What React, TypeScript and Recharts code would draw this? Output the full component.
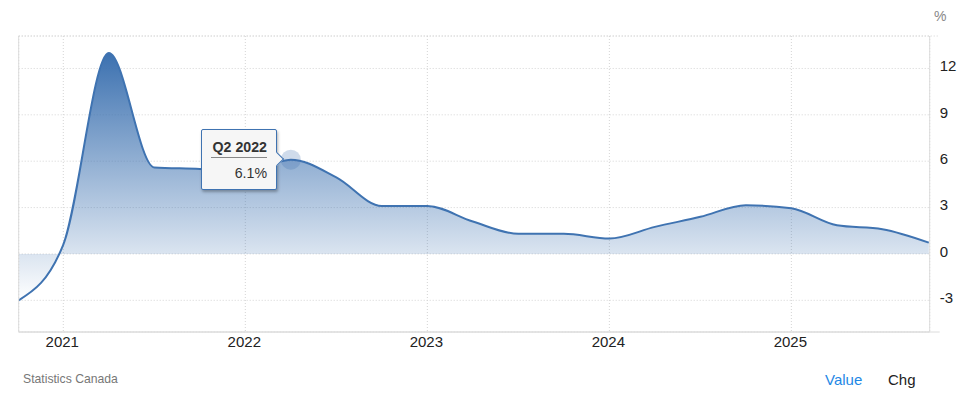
import { AreaChart, Area, XAxis, YAxis, CartesianGrid, ReferenceLine, Tooltip } from "recharts";

const quarters = [
  "Q4 2020", "Q1 2021", "Q2 2021", "Q3 2021", "Q4 2021", "Q1 2022", "Q2 2022",
  "Q3 2022", "Q4 2022", "Q1 2023", "Q2 2023", "Q3 2023", "Q4 2023", "Q1 2024",
  "Q2 2024", "Q3 2024", "Q4 2024", "Q1 2025", "Q2 2025", "Q3 2025", "Q4 2025",
];
const positions = [
  2020.755, 2021, 2021.25, 2021.5, 2021.75, 2022, 2022.25,
  2022.5, 2022.75, 2023, 2023.25, 2023.5, 2023.75, 2024,
  2024.25, 2024.5, 2024.75, 2025, 2025.25, 2025.5, 2025.755,
];
const values = [
  -3.0, 0.6, 13.0, 5.6, 5.5, 5.3, 6.1,
  4.95, 3.1, 3.1, 2.1, 1.3, 1.3, 1.0,
  1.75, 2.4, 3.15, 2.95, 1.85, 1.6, 0.73,
];
const yearTicks = [2021, 2022, 2023, 2024, 2025];
const valueTicks = [-3, 0, 3, 6, 9, 12];

const data = quarters.map((q, i) => ({ quarter: q, x: positions[i], value: values[i] }));

const xMin = 2020.755;
const xMax = 2025.76;
const yMin = -5.05;
const yMax = 14.1;
const xOver = xMax + 0.055;

const lineColor = "#3f73b1";

function QuarterTip({ payload }: any) {
  const row = payload && payload[0] ? payload[0].payload : data[6];
  return (
    <div
      style={{
        position: "relative",
        boxSizing: "border-box",
        width: 76,
        height: 61,
        background: "#f6f6f6",
        border: `1px solid ${lineColor}`,
        borderRadius: 2,
        boxShadow: "1px 2px 3px rgba(0,0,0,0.3)",
        padding: "9px 9px 0 9px",
        fontSize: 14.2,
        color: "#333",
        textAlign: "right",
      }}
    >
      <div style={{ fontWeight: "bold", borderBottom: "1px solid #888", paddingBottom: 1, lineHeight: "17px", whiteSpace: "nowrap" }}>
        {row.quarter}
      </div>
      <div style={{ marginTop: 7, lineHeight: "17px" }}>{row.value.toFixed(1)}%</div>
      <div
        style={{
          position: "absolute",
          left: 70,
          top: 24,
          width: 9,
          height: 9,
          background: "#f6f6f6",
          borderTop: `1px solid ${lineColor}`,
          borderRight: `1px solid ${lineColor}`,
          transform: "rotate(45deg)",
        }}
      />
    </div>
  );
}

export default function App() {
  return (
    <div style={{ position: "absolute", left: 0, top: 0, width: 963, height: 400, fontFamily: "'Liberation Sans', Arial, sans-serif" }}>
      <AreaChart
        width={963}
        height={400}
        data={data}
        margin={{ top: 36, right: 0, bottom: 38, left: 18.7 }}
        style={{ fontFamily: "'Liberation Sans', Arial, sans-serif" }}
      >
        <defs>
          <linearGradient id="areaFill" x1="0" y1="0" x2="0" y2="1">
            <stop offset="0%" stopColor="#3c71b0" stopOpacity={1} />
            <stop offset="100%" stopColor="#3c71b0" stopOpacity={0} />
          </linearGradient>
        </defs>
        <CartesianGrid stroke="#d4d4d4" strokeDasharray="1 2" />
        <XAxis
          dataKey="x"
          type="number"
          domain={[xMin, xMax]}
          allowDataOverflow
          ticks={yearTicks}
          tickFormatter={(v) => String(v)}
          height={30}
          axisLine={{ stroke: "#dcdcdc" }}
          tickLine={false}
          tickMargin={-2}
          tick={{ fontSize: 15, fill: "#222", dx: -1 }}
        />
        <YAxis
          orientation="right"
          domain={[yMin, yMax]}
          allowDataOverflow
          ticks={valueTicks}
          width={33.3}
          axisLine={{ stroke: "#dcdcdc" }}
          tickLine={false}
          tickMargin={4}
          tick={{ fontSize: 15, fill: "#222", dy: -2.5 }}
        />
        <ReferenceLine
          ifOverflow="visible"
          segment={[{ x: xMin, y: yMax }, { x: xOver, y: yMax }]}
          stroke="#d4d4d4"
          strokeDasharray="1 2"
        />
        <ReferenceLine
          ifOverflow="visible"
          segment={[{ x: xMin, y: yMin }, { x: xOver, y: yMin }]}
          stroke="#dcdcdc"
        />
        <ReferenceLine x={xMin} stroke="#dcdcdc" />
        <Area
          dataKey="value"
          type="monotone"
          stroke={lineColor}
          strokeWidth={2}
          fill="url(#areaFill)"
          fillOpacity={1}
          dot={false}
          activeDot={{ r: 10, fill: "#3f6fb0", fillOpacity: 0.25, stroke: "none" }}
          isAnimationActive={false}
        />
        <Tooltip
          active
          defaultIndex={6}
          cursor={false}
          position={{ x: 201, y: 129 }}
          content={<QuarterTip />}
          isAnimationActive={false}
          wrapperStyle={{ outline: "none" }}
        />
      </AreaChart>
      <div style={{ position: "absolute", left: 934, top: 8, fontSize: 14, color: "#888" }}>%</div>
      <div style={{ position: "absolute", left: 23, top: 372, fontSize: 12.2, color: "#777" }}>Statistics Canada</div>
      <div style={{ position: "absolute", left: 825, top: 371, fontSize: 15, color: "#1e88e5" }}>Value</div>
      <div style={{ position: "absolute", left: 888, top: 371, fontSize: 15, color: "#222" }}>Chg</div>
    </div>
  );
}
